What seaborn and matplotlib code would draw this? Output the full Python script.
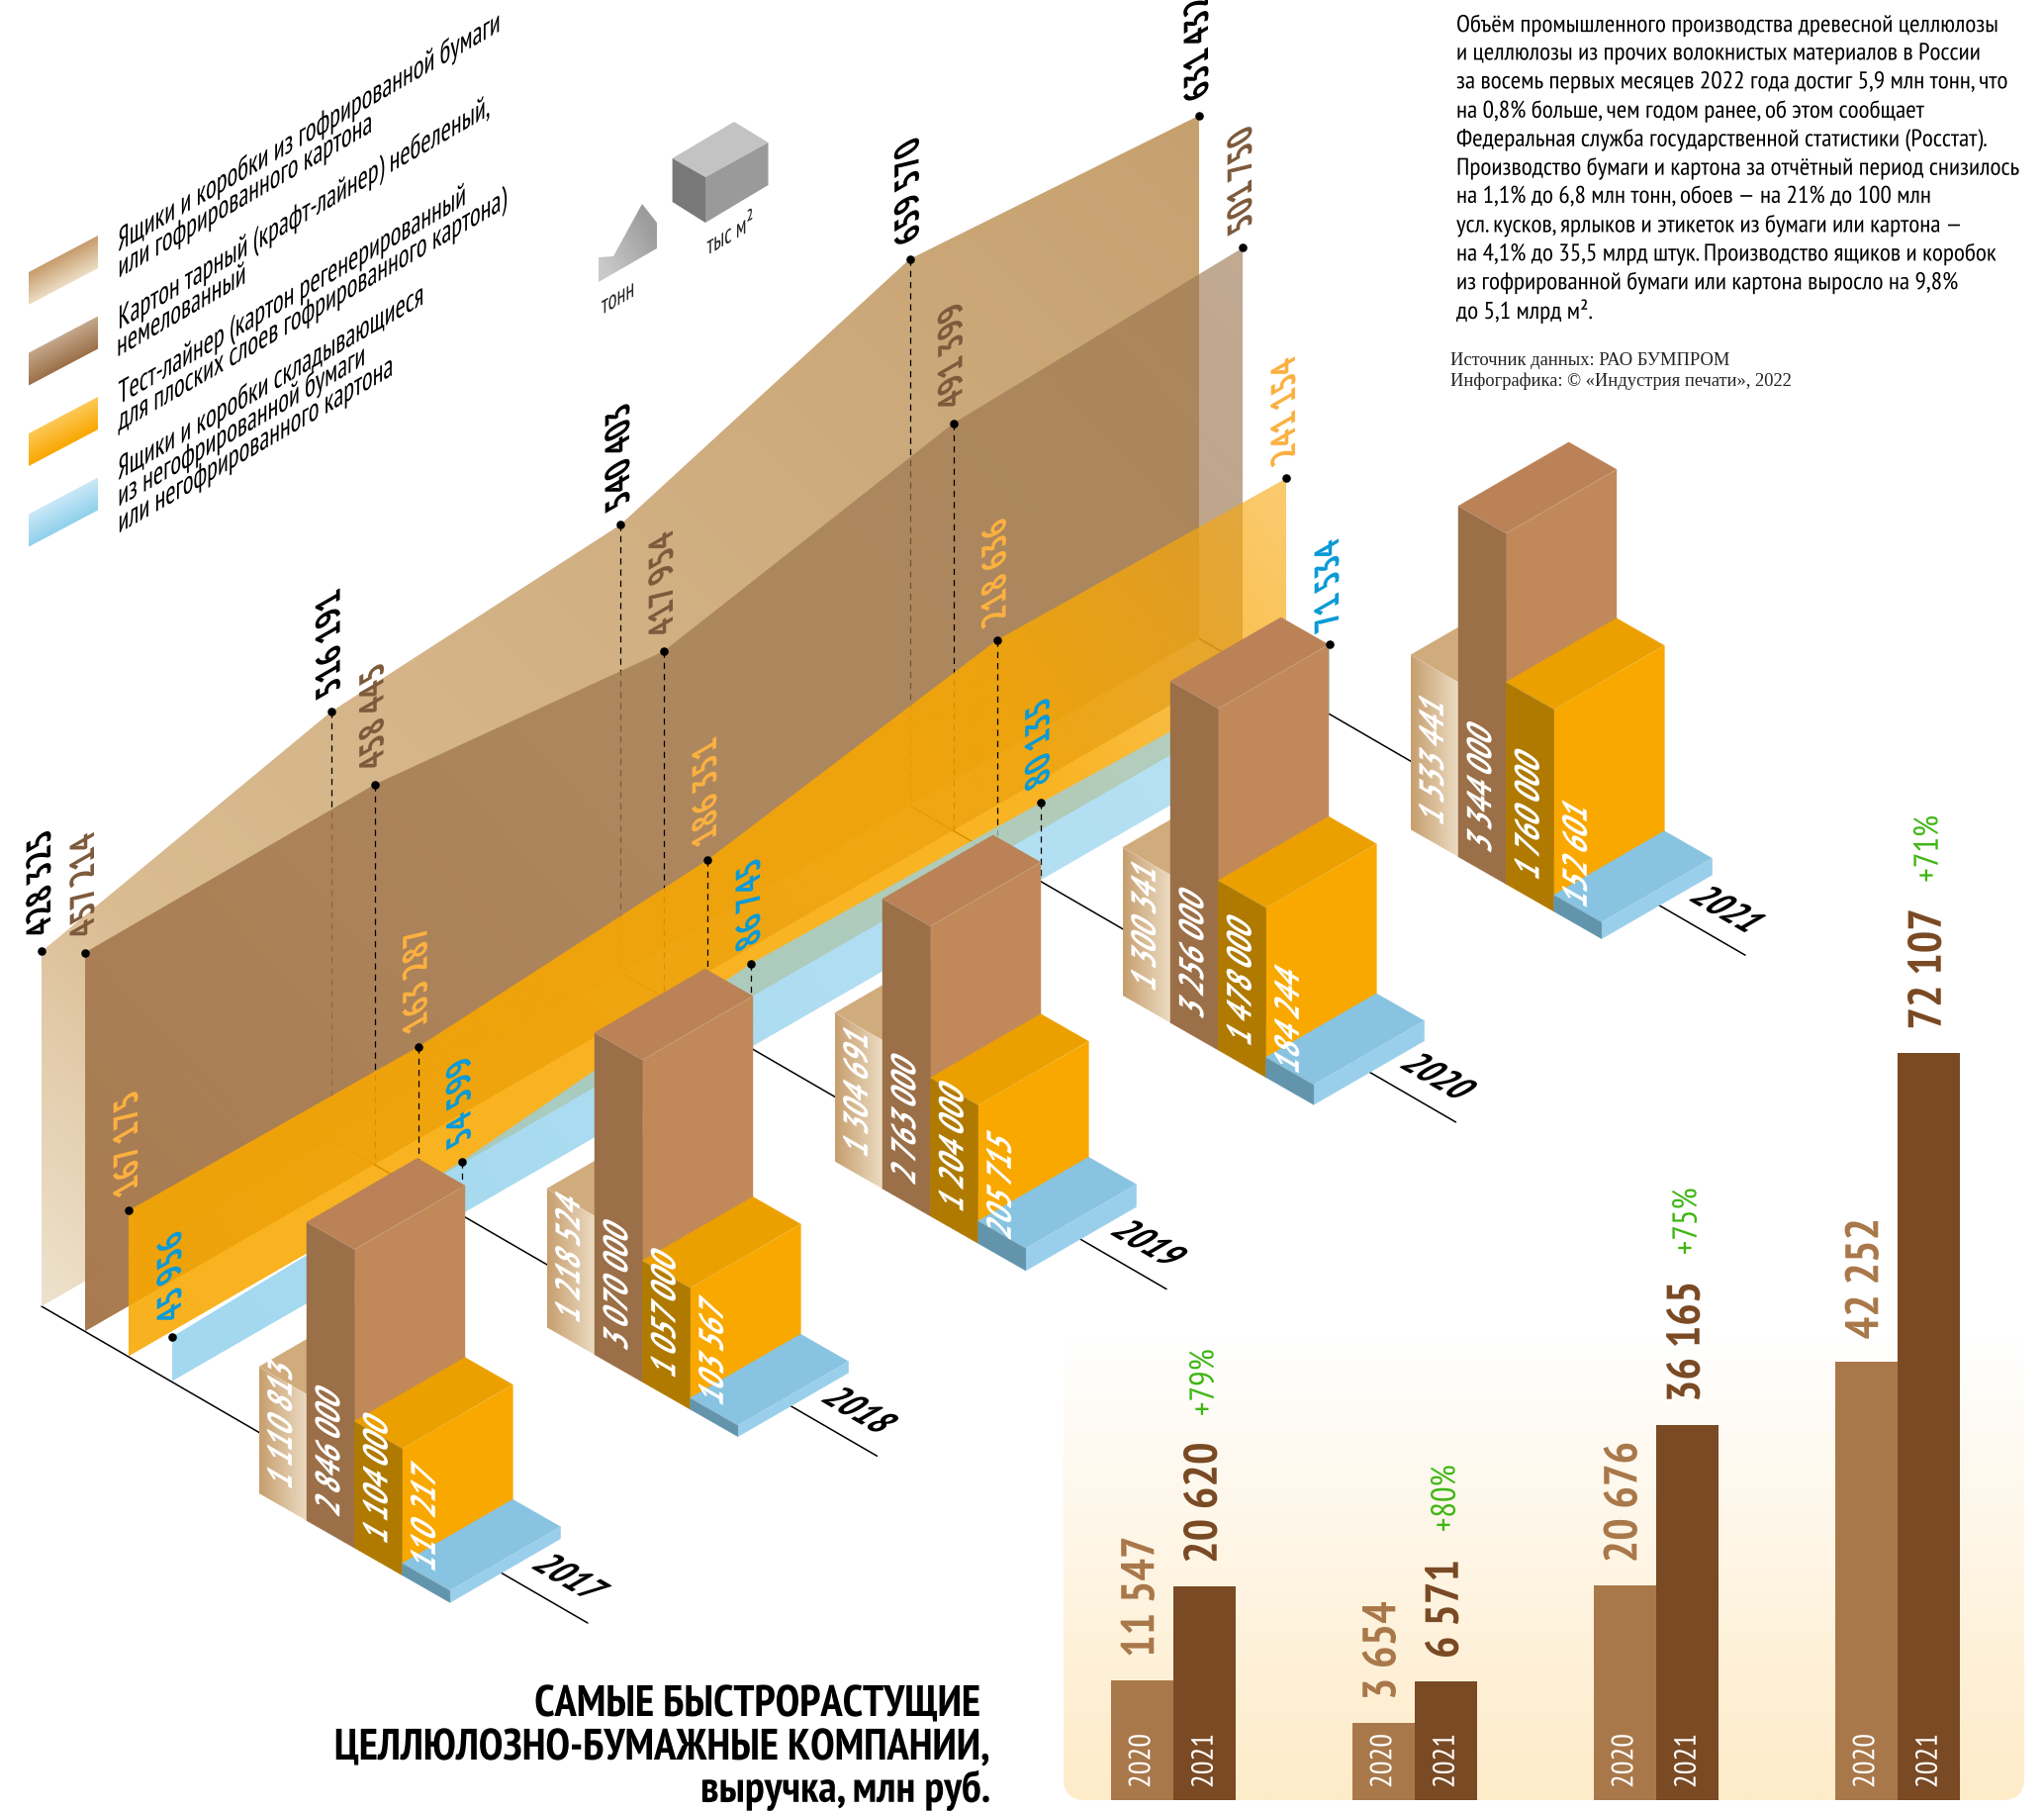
import numpy as np
import pandas as pd
import matplotlib
matplotlib.use("Agg")
import matplotlib.pyplot as plt
from matplotlib.patches import Polygon, FancyBboxPatch
from matplotlib.patheffects import AbstractPathEffect
from matplotlib.transforms import Affine2D
from matplotlib.colors import to_rgb
from matplotlib import font_manager as fm
import seaborn as sns

# ---------- data ----------
years = [2017, 2018, 2019, 2020, 2021]
tonnes_liner_kraft = [428325, 516191, 540403, 659570, 631432]
tonnes_carton = [457214, 458445, 417954, 491399, 501750]
tonnes_testliner = [167175, 163287, 186351, 218636, 241154]
tonnes_folding = [45956, 54599, 86745, 80135, 71534]

sqm_corrugated = [1110813, 1218524, 1304691, 1300341, 1533441]
sqm_liner = [2846000, 3070000, 2763000, 3256000, 3344000]
sqm_test = [1104000, 1057000, 1204000, 1478000, 1760000]
sqm_folding = [110217, 103567, 205715, 184244, 152601]

company_ids = ["A", "B", "C", "D"]
revenue_2020 = [11547, 3654, 20676, 42252]
revenue_2021 = [20620, 6571, 36165, 72107]
# the second pair is drawn taller than its labels in the reference
drawn_2020 = [11547, 7420, 20676, 42252]
drawn_2021 = [20620, 11450, 36165, 72107]
growth = ["+79%", "+80%", "+75%", "+71%"]

legend_lines = [
    ["Ящики и коробки из гофрированной бумаги", "или гофрированного картона"],
    ["Картон тарный (крафт-лайнер) небеленый,", "немелованный"],
    ["Тест-лайнер (картон регенерированный", "для плоских слоев гофрированного картона)"],
    ["Ящики и коробки складывающиеся", "из негофрированной бумаги", "или негофрированного картона"],
]
body_lines = [
    "Объём промышленного производства древесной целлюлозы",
    "и целлюлозы из прочих волокнистых материалов в России",
    "за восемь первых месяцев 2022 года достиг 5,9 млн тонн, что",
    "на 0,8% больше, чем годом ранее, об этом сообщает",
    "Федеральная служба государственной статистики (Росстат).",
    "Производство бумаги и картона за отчётный период снизилось",
    "на 1,1% до 6,8 млн тонн, обоев — на 21% до 100 млн",
    "усл. кусков, ярлыков и этикеток из бумаги или картона —",
    "на 4,1% до 35,5 млрд штук. Производство ящиков и коробок",
    "из гофрированной бумаги или картона выросло на 9,8%",
    "до 5,1 млрд м².",
]
source_lines = ["Источник данных: РАО БУМПРОМ", "Инфографика: © «Индустрия печати», 2022"]
title_lines = ["САМЫЕ БЫСТРОРАСТУЩИЕ", "ЦЕЛЛЮЛОЗНО-БУМАЖНЫЕ КОМПАНИИ,", "выручка, млн руб."]

# ---------- setup ----------
sns.set_style("white")
names = {f.name for f in fm.fontManager.ttflist}
NARROW = "PT Sans Narrow" if "PT Sans Narrow" in names else "Roboto"
SQ = 1.0 if NARROW == "PT Sans Narrow" else 0.8
SERIF = "Liberation Serif"
plt.rcParams["font.family"] = [NARROW, "DejaVu Sans"]

W, H = 2066, 1831
fig = plt.figure(figsize=(W / 100, H / 100), dpi=100, facecolor="white")
ax = fig.add_axes([0, 0, 1, 1])
ax.set_xlim(0, W)
ax.set_ylim(H, 0)
ax.set_autoscale_on(False)
ax.axis("off")

TAN30 = 0.577


class Slant(AbstractPathEffect):
    """Shears and narrows the glyphs of a real text, to lie on an isometric face."""

    def __init__(self, shear=0.0, sx=1.0, sy=1.0, pivot="center"):
        super().__init__()
        self.shear, self.sx, self.sy, self.pivot = shear, sx * SQ, sy, pivot

    def draw_path(self, renderer, gc, tpath, affine, rgbFace=None):
        e = tpath.get_extents()
        px = {"center": (e.x0 + e.x1) / 2, "left": 0.0, "right": e.x1}[self.pivot]
        py = (e.y0 + e.y1) / 2
        m = (Affine2D().translate(-px, -py).scale(self.sx, self.sy)
             + Affine2D(np.array([[1, self.shear, 0], [0, 1, 0], [0, 0, 1]], float))
             + Affine2D().translate(px, py))
        renderer.draw_path(gc, tpath, m + affine, rgbFace)


def grad_fill(verts, stops, p0, p1, z=1.0):
    """stops: list of (t, colour, alpha) along p0 -> p1."""
    verts = np.asarray(verts, float)
    x0, y0 = verts.min(0)
    x1, y1 = verts.max(0)
    nx = min(300, max(4, int(x1 - x0)))
    ny = min(300, max(4, int(y1 - y0)))
    X, Y = np.meshgrid(np.linspace(x0, x1, nx), np.linspace(y0, y1, ny))
    d = np.array(p1, float) - np.array(p0, float)
    t = np.clip(((X - p0[0]) * d[0] + (Y - p0[1]) * d[1]) / (d @ d), 0, 1)
    ts = [s[0] for s in stops]
    cols = np.array([to_rgb(s[1]) for s in stops])
    alphas = [s[2] for s in stops]
    img = np.zeros((ny, nx, 4))
    for k in range(3):
        img[..., k] = np.interp(t, ts, cols[:, k])
    img[..., 3] = np.interp(t, ts, alphas)
    im = ax.imshow(img, extent=(x0, x1, y1, y0), origin="upper", aspect="auto",
                   interpolation="bilinear", zorder=z)
    im.set_clip_path(Polygon(verts, closed=True, transform=ax.transData))
    return im


# ---------- isometric projection ----------
YEAR_STEP = np.array([292.5, -168.7])
SERIES_STEP = np.array([44.0, 25.2])
AREA_ORIGIN = np.array([42.0, 1321.0])
AREA_SCALE = [0.000837, 0.000837, 0.00088, 0.000975]
AREA_LIFT = {(2, 3): 25.0}
BAR_ORIGIN = np.array([261.7, 1510.0])
BAR_YEAR_STEP = np.array([291.0, -167.7])
BAR_W = np.array([48.3, 27.6])
BAR_D = np.array([111.7, -64.5])
BAR_SCALE = [0.000115, 0.000106, 0.000116, 0.00011]
AXIS_END = np.array([594.0, 1641.0])
YEAR_LABEL = np.array([576.0, 1597.0])


def area_base(i, s):
    return AREA_ORIGIN + i * YEAR_STEP + s * SERIES_STEP


def area_top(i, s, v):
    return area_base(i, s) - np.array([0, AREA_SCALE[s] * v + AREA_LIFT.get((s, i), 0)])


area_series = [tonnes_liner_kraft, tonnes_carton, tonnes_testliner, tonnes_folding]
bar_series = [sqm_corrugated, sqm_liner, sqm_test, sqm_folding]
area_colors = ["#000000", "#7d5a3c", "#fbb040", "#0a9ad6"]
num = lambda v: f"{v:,}".replace(",", " ")

# year axes
for i, yr in enumerate(years):
    a, b = area_base(i, 0), AXIS_END + i * YEAR_STEP
    ax.plot([a[0], b[0]], [a[1], b[1]], color="black", lw=1.1, zorder=0.5)
    c = YEAR_LABEL + i * YEAR_STEP
    ax.text(c[0], c[1], str(yr), rotation=-30, ha="center", va="center", rotation_mode="anchor",
            fontsize=26, fontweight="bold", color="black", zorder=40,
            path_effects=[Slant(TAN30, 1.0)])

# area layers
area_style = [
    [(0, "#eee2cd", 1.0), (0.2, "#dabc92", 1.0), (1, "#c6a170", 1.0)],
    [(0, "#a8794e", 1.0), (0.5, "#a27a52", 0.76), (1, "#9b7550", 0.62)],
    [(0, "#f9a800", 0.88), (0.75, "#f9a800", 0.86), (1, "#f8a810", 0.6)],
    [(0, "#8ed0ec", 0.82), (1, "#9dd6ef", 0.72)],
]
for s, vals in enumerate(area_series):
    tops = [area_top(i, s, v) for i, v in enumerate(vals)]
    bases = [area_base(i, s) for i in range(len(vals))]
    verts = tops + bases[::-1]
    grad_fill(verts, area_style[s], bases[0], tops[-1], z=2 + s)
    for i in range(1, 4):
        ax.plot([tops[i][0], bases[i][0]], [tops[i][1], bases[i][1]], color="black",
                lw=0.9, ls=(0, (5, 4)), zorder=2.5 + s)
    for i, v in enumerate(vals):
        ax.text(tops[i][0], tops[i][1] - 14, num(v), rotation=90, ha="center", va="bottom",
                fontsize=25, fontweight="bold", color=area_colors[s], zorder=30,
                path_effects=[Slant(-TAN30, 0.98)])
for s, vals in enumerate(area_series):
    pts = np.array([area_top(i, s, v) for i, v in enumerate(vals)])
    ax.scatter(pts[:, 0], pts[:, 1], s=38, color="black", zorder=30, linewidths=0)

# boxes
face_colors = [
    dict(right="#cfa97a", top="#d0ab7c"),
    dict(left="#9b6f47", right="#c1895a", top="#ba8256"),
    dict(left="#b07a00", right="#f9a800", top="#eca000"),
    dict(left="#6294ac", right="#9acfeb", top="#88c4e1"),
]
for i in range(len(years) - 1, -1, -1):
    zb = 10 + (4 - i) * 2
    for b, vals in enumerate(bar_series):
        h = np.array([0, BAR_SCALE[b] * vals[i]])
        fl = BAR_ORIGIN + i * BAR_YEAR_STEP + b * BAR_W
        fc = fl + BAR_W
        st = face_colors[b]
        z = zb + b * 0.1
        right = [fc, fc + BAR_D, fc + BAR_D - h, fc - h]
        top = [fl - h, fc - h, fc + BAR_D - h, fl + BAR_D - h]
        left = [fl, fc, fc - h, fl - h]
        ax.fill(*zip(*right), color=st["right"], lw=0.3, zorder=z)
        ax.fill(*zip(*top), color=st["top"], lw=0.3, zorder=z)
        if b == 0:
            grad_fill(left, [(0, "#c79f6f", 1), (1, "#ecdcc3", 1)], fl, fl + np.array([BAR_W[0], 0]), z=z + 0.01)
        else:
            ax.fill(*zip(*left), color=st["left"], lw=0.3, zorder=z)
        edge = np.array([fl - h, fc - h, fc + BAR_D - h])
        ax.plot(edge[:, 0], edge[:, 1], color="white", alpha=0.22, lw=0.6, zorder=z + 0.02)
    for b, vals in enumerate(bar_series):
        fl = BAR_ORIGIN + i * BAR_YEAR_STEP + b * BAR_W
        c = fl + BAR_W / 2
        ax.text(c[0], c[1] - 20, num(vals[i]), rotation=90, ha="center", va="bottom",
                fontsize=25, fontweight="bold", color="white", zorder=zb + 1,
                path_effects=[Slant(TAN30, 0.96)])

# legend
swatches = [("#c69c6d", "#ecdcc2"), ("#c3a78a", "#9b6f47"), ("#fdc858", "#f9a800"), ("#c8e8f7", "#90d0ec")]
for n, (c0, c1) in enumerate(swatches):
    tl = np.array([29.0, 276 + n * 81.5])
    run = np.array([70.0, -37.0])
    hh = np.array([0, 33.0])
    verts = [tl, tl + run, tl + run + hh, tl + hh]
    grad_fill(verts, [(0, c0, 1), (1, c1, 1)], tl, tl + np.array([13.6, 25.7]), z=1)
legend_starts = [
    [(123, 253), (123, 280)],
    [(123, 332), (123, 359)],
    [(123, 408), (123, 435)],
    [(123, 484), (123, 511), (123, 538)],
]
for lines, starts in zip(legend_lines, legend_starts):
    for line, (x, y) in zip(lines, starts):
        ax.text(x, y, line, rotation=30, rotation_mode="anchor", ha="left", va="baseline",
                fontsize=20.5, color="black", path_effects=[Slant(TAN30, 1.005, pivot="left")])

# unit icons
wedge = [(605, 261), (620, 260), (649, 207), (664, 226), (664, 252), (605, 286)]
grad_fill(wedge, [(0, "#c9c9c9", 1), (1, "#9c9c9c", 1)], (610, 270), (664, 240))
box_top = [(742, 124), (776.5, 145), (713, 180), (679.6, 161)]
box_left = [(679.6, 161), (713, 180), (713, 226), (679.6, 205)]
box_right = [(713, 180), (776.5, 145), (776.5, 188), (713, 226)]
ax.fill(*zip(*box_top), color="#c3c3c3", lw=0)
ax.fill(*zip(*box_left), color="#787878", lw=0)
ax.fill(*zip(*box_right), color="#9a9a9a", lw=0)
ax.text(625, 303, "тонн", rotation=30, ha="center", va="center", fontsize=17,
        path_effects=[Slant(TAN30)])
ax.text(740, 238, "тыс м²", rotation=30, ha="center", va="center", fontsize=17,
        path_effects=[Slant(TAN30)])

# body text
for n, line in enumerate(body_lines):
    ax.text(1472, 27 + n * 28.9, line, ha="left", va="center", fontsize=17.5, color="black",
            path_effects=[Slant(0, 1.046, pivot="left")])
for n, line in enumerate(source_lines):
    ax.text(1466, 364 + n * 21, line, ha="left", va="center", fontsize=13.3, color="#222222",
            family=SERIF)

# title
for line, x, y in zip(title_lines, [991, 1001, 1001], [1724, 1768, 1810]):
    ax.text(x, y, line, ha="right", va="center", fontsize=32, fontweight="bold", color="black",
            path_effects=[Slant(0, 1.0, pivot="right")])

# panel background
panel_x0, panel_x1, panel_y0, panel_y1 = 1075, 2046, 1350, 1820
X, Y = np.meshgrid([0, 1], np.linspace(0, 1, 200))
c0, c1 = np.array(to_rgb("#ffffff")), np.array(to_rgb("#feebc8"))
img = c0 + (c1 - c0) * Y[..., None]
im = ax.imshow(img, extent=(panel_x0, panel_x1, panel_y1, panel_y0), origin="upper", aspect="auto", zorder=0.1)
clip = FancyBboxPatch((panel_x0 + 22, panel_y0 - 30), panel_x1 - panel_x0 - 44, panel_y1 - panel_y0 + 8,
                      boxstyle="round,pad=22,rounding_size=22", transform=ax.transData)
im.set_clip_path(clip)

# company bars (seaborn)
PANEL_LEFT, PANEL_RIGHT, PANEL_BOTTOM = 1064.0, 2040.0, 1820.0
PX_PER_UNIT = 0.010475
YMAX = 80000
panel_top = PANEL_BOTTOM - YMAX * PX_PER_UNIT
pax = fig.add_axes([PANEL_LEFT / W, 1 - PANEL_BOTTOM / H, (PANEL_RIGHT - PANEL_LEFT) / W,
                    (PANEL_BOTTOM - panel_top) / H], facecolor="none")
df = pd.DataFrame({
    "company": company_ids * 2,
    "year": ["2020"] * 4 + ["2021"] * 4,
    "revenue": drawn_2020 + drawn_2021,
})
bar_pal = {"2020": "#a9784a", "2021": "#7a4a24"}
sns.barplot(data=df, x="company", y="revenue", hue="year", palette=bar_pal, width=0.52,
            saturation=1, gap=0, legend=False, ax=pax, linewidth=0, errorbar=None)
pax.set_xlim(-0.5, 3.5)
pax.set_ylim(0, YMAX)
pax.axis("off")
px = 0.72
for yr, real, cont in zip(["2020", "2021"], [revenue_2020, revenue_2021], pax.containers):
    for j, bar in enumerate(cont):
        cx = bar.get_x() + bar.get_width() / 2
        h = bar.get_height()
        label = num(real[j])
        pax.annotate(label, (cx, h), xytext=(0, 23 * px), textcoords="offset points", rotation=90,
                     ha="center", va="bottom", fontsize=34, fontweight="bold", color=bar_pal[yr],
                     path_effects=[Slant(0, 1.0)])
        pax.annotate(yr, (cx, 0), xytext=(0, 12 * px), textcoords="offset points", rotation=90,
                     ha="center", va="bottom", fontsize=22, color="white",
                     path_effects=[Slant(0, 1.0)])
        if yr == "2021":
            off = 172 if len(label) >= 6 else 151
            pax.annotate(growth[j], (cx, h), xytext=(0, off * px), textcoords="offset points", rotation=90,
                         ha="center", va="bottom", fontsize=25, color="#3fb614",
                         path_effects=[Slant(0, 1.0)])

fig.savefig("out.png", dpi=100, facecolor="white")
